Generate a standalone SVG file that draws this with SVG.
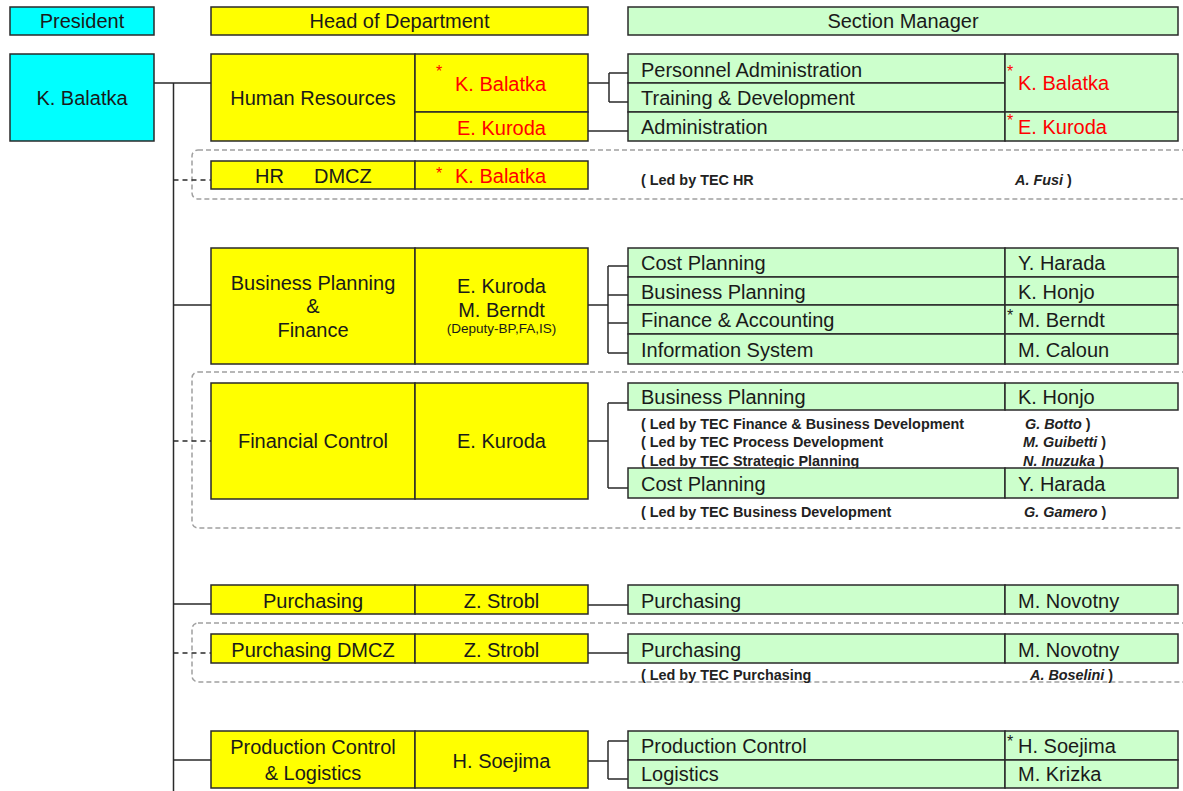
<svg xmlns="http://www.w3.org/2000/svg" width="1183" height="791" viewBox="0 0 1183 791">
  <style>
    .box { stroke: #2a2a2a; stroke-width: 1.5; }
    .pres { fill: #00FFFF; }
    .head { fill: #FFFF00; }
    .sec { fill: #CCFFCC; }
    .frame { fill: none; stroke: #a0a0a0; stroke-width: 1.5; stroke-dasharray: 5 3; }
    .t { font-family: "Liberation Sans", Arial, sans-serif; font-size: 20px; fill: #1a1a1a; }
    .c { text-anchor: middle; }
    .red { fill: #FF0000; }
    .star { font-size: 16px; }
    .s { font-family: "Liberation Sans", Arial, sans-serif; font-size: 14.4px; font-weight: bold; fill: #222222; }
    .sn { font-family: "Liberation Sans", Arial, sans-serif; font-size: 13.5px; fill: #1a1a1a; }
    .it { font-style: italic; }
    .conn { fill: none; stroke: #2a2a2a; stroke-width: 1.5; }
    .dash { stroke-dasharray: 5 4; }
  </style>

  <rect width="1183" height="791" fill="#FFFFFF"/>

  <!-- column headers -->
  <g id="hdr-president">
    <rect class="box pres" x="10" y="7" width="144" height="28"/>
    <text class="t c" x="82" y="28">President</text>
  </g>
  <g id="hdr-head">
    <rect class="box head" x="211" y="7" width="377" height="28"/>
    <text class="t c" x="399.5" y="28">Head of Department</text>
  </g>
  <g id="hdr-section">
    <rect class="box sec" x="628" y="7" width="550" height="28"/>
    <text class="t c" x="903" y="28">Section Manager</text>
  </g>

  <!-- dashed frames around the DMCZ / led-by units -->
  <g id="frames">
    <rect class="frame" x="192" y="150" width="1010" height="49" rx="6"/>
    <rect class="frame" x="192" y="372" width="1010" height="156" rx="6"/>
    <rect class="frame" x="192" y="623" width="1010" height="59" rx="6"/>
  </g>

  <!-- connectors -->
  <g id="connectors">
    <path class="conn" d="M154,83 H211 M173.5,83 V791"/>
    <!-- Human Resources -->
    <path class="conn" d="M588,83 H609 M609,73 V102 M609,73 H628 M609,102 H628"/>
    <path class="conn" d="M588,131 H628"/>
    <!-- HR DMCZ -->
    <path class="conn dash" d="M173.5,180 H211"/>
    <!-- Business Planning & Finance -->
    <path class="conn" d="M173.5,305 H211 M588,305 H608 M608,266 V353 M608,266 H628 M608,295 H628 M608,323 H628 M608,353 H628"/>
    <!-- Financial Control -->
    <path class="conn dash" d="M173.5,441 H211"/>
    <path class="conn" d="M588,441 H608 M608,403 V488 M608,403 H628 M608,488 H628"/>
    <!-- Purchasing -->
    <path class="conn" d="M173.5,604 H211 M588,605 H628"/>
    <path class="conn dash" d="M173.5,653 H211"/>
    <path class="conn" d="M588,653 H628"/>
    <!-- Production Control & Logistics -->
    <path class="conn" d="M173.5,760 H211 M588,761 H608 M608,741 V779 M608,741 H628 M608,779 H628"/>
  </g>

  <!-- president -->
  <g id="president">
    <rect class="box pres" x="10" y="54" width="144" height="87"/>
    <text class="t c" x="82" y="105">K. Balatka</text>
  </g>

  <!-- Human Resources -->
  <g id="dept-hr">
    <rect class="box head" x="211" y="54" width="204" height="87"/>
    <rect class="box head" x="415" y="54" width="173" height="58"/>
    <rect class="box head" x="415" y="112" width="173" height="29"/>
    <text class="t c" x="313" y="105">Human Resources</text>
    <text class="t red star" x="436" y="77">*</text>
    <text class="t red" x="455" y="91">K. Balatka</text>
    <text class="t red c" x="501.5" y="135">E. Kuroda</text>
  </g>
  <g id="sec-hr">
    <rect class="box sec" x="628" y="54" width="377" height="29"/>
    <rect class="box sec" x="628" y="83" width="377" height="29"/>
    <rect class="box sec" x="628" y="112" width="377" height="29"/>
    <rect class="box sec" x="1005" y="54" width="173" height="58"/>
    <rect class="box sec" x="1005" y="112" width="173" height="29"/>
    <text class="t" x="641" y="77">Personnel Administration</text>
    <text class="t" x="641" y="105">Training &amp; Development</text>
    <text class="t" x="641" y="134">Administration</text>
    <text class="t red star" x="1007" y="77">*</text>
    <text class="t red" x="1018" y="90">K. Balatka</text>
    <text class="t red star" x="1007" y="126">*</text>
    <text class="t red" x="1018" y="134">E. Kuroda</text>
  </g>

  <!-- HR DMCZ -->
  <g id="dept-hr-dmcz">
    <rect class="box head" x="211" y="161" width="204" height="28"/>
    <rect class="box head" x="415" y="161" width="173" height="28"/>
    <text class="t" x="255" y="183">HR</text>
    <text class="t" x="314" y="183">DMCZ</text>
    <text class="t red star" x="436" y="179">*</text>
    <text class="t red" x="455" y="183">K. Balatka</text>
    <text class="s" x="641" y="185">( Led by TEC HR</text>
    <text class="s" x="1015" y="185"><tspan class="it">A. Fusi</tspan> )</text>
  </g>

  <!-- Business Planning & Finance -->
  <g id="dept-bpf">
    <rect class="box head" x="211" y="248" width="204" height="116"/>
    <rect class="box head" x="415" y="248" width="173" height="116"/>
    <text class="t c" x="313" y="290">Business Planning</text>
    <text class="t c" x="313" y="313">&amp;</text>
    <text class="t c" x="313" y="337">Finance</text>
    <text class="t c" x="501.5" y="293">E. Kuroda</text>
    <text class="t c" x="501.5" y="317">M. Berndt</text>
    <text class="sn c" x="501.5" y="333">(Deputy-BP,FA,IS)</text>
  </g>
  <g id="sec-bpf">
    <rect class="box sec" x="628" y="248" width="377" height="29"/>
    <rect class="box sec" x="628" y="277" width="377" height="28"/>
    <rect class="box sec" x="628" y="305" width="377" height="29"/>
    <rect class="box sec" x="628" y="334" width="377" height="30"/>
    <rect class="box sec" x="1005" y="248" width="173" height="29"/>
    <rect class="box sec" x="1005" y="277" width="173" height="28"/>
    <rect class="box sec" x="1005" y="305" width="173" height="29"/>
    <rect class="box sec" x="1005" y="334" width="173" height="30"/>
    <text class="t" x="641" y="270">Cost Planning</text>
    <text class="t" x="641" y="299">Business Planning</text>
    <text class="t" x="641" y="327">Finance &amp; Accounting</text>
    <text class="t" x="641" y="357">Information System</text>
    <text class="t" x="1018" y="270">Y. Harada</text>
    <text class="t" x="1018" y="299">K. Honjo</text>
    <text class="t star" x="1007" y="321">*</text>
    <text class="t" x="1018" y="327">M. Berndt</text>
    <text class="t" x="1018" y="357">M. Caloun</text>
  </g>

  <!-- Financial Control -->
  <g id="dept-fc">
    <rect class="box head" x="211" y="383" width="204" height="116"/>
    <rect class="box head" x="415" y="383" width="173" height="116"/>
    <text class="t c" x="313" y="448">Financial Control</text>
    <text class="t c" x="501.5" y="448">E. Kuroda</text>
  </g>
  <g id="sec-fc">
    <text class="s" x="641" y="429">( Led by TEC Finance &amp; Business Development</text>
    <text class="s" x="1025" y="429"><tspan class="it">G. Botto</tspan> )</text>
    <text class="s" x="641" y="447">( Led by TEC Process Development</text>
    <text class="s" x="1023" y="447"><tspan class="it">M. Guibetti</tspan> )</text>
    <text class="s" x="641" y="466">( Led by TEC Strategic Planning</text>
    <text class="s" x="1023" y="466"><tspan class="it">N. Inuzuka</tspan> )</text>
    <rect class="box sec" x="628" y="383" width="377" height="27"/>
    <rect class="box sec" x="1005" y="383" width="173" height="27"/>
    <rect class="box sec" x="628" y="468" width="377" height="30"/>
    <rect class="box sec" x="1005" y="468" width="173" height="30"/>
    <text class="t" x="641" y="404">Business Planning</text>
    <text class="t" x="1018" y="404">K. Honjo</text>
    <text class="t" x="641" y="491">Cost Planning</text>
    <text class="t" x="1018" y="491">Y. Harada</text>
    <text class="s" x="641" y="517">( Led by TEC Business Development</text>
    <text class="s" x="1024" y="517"><tspan class="it">G. Gamero</tspan> )</text>
  </g>

  <!-- Purchasing -->
  <g id="dept-pur">
    <rect class="box head" x="211" y="585" width="204" height="29"/>
    <rect class="box head" x="415" y="585" width="173" height="29"/>
    <text class="t c" x="313" y="608">Purchasing</text>
    <text class="t c" x="501.5" y="608">Z. Strobl</text>
  </g>
  <g id="sec-pur">
    <rect class="box sec" x="628" y="585" width="377" height="29"/>
    <rect class="box sec" x="1005" y="585" width="173" height="29"/>
    <text class="t" x="641" y="608">Purchasing</text>
    <text class="t" x="1018" y="608">M. Novotny</text>
  </g>

  <!-- Purchasing DMCZ -->
  <g id="dept-pur-dmcz">
    <rect class="box head" x="211" y="634" width="204" height="29"/>
    <rect class="box head" x="415" y="634" width="173" height="29"/>
    <text class="t c" x="313" y="657">Purchasing DMCZ</text>
    <text class="t c" x="501.5" y="657">Z. Strobl</text>
  </g>
  <g id="sec-pur-dmcz">
    <rect class="box sec" x="628" y="634" width="377" height="29"/>
    <rect class="box sec" x="1005" y="634" width="173" height="29"/>
    <text class="t" x="641" y="657">Purchasing</text>
    <text class="t" x="1018" y="657">M. Novotny</text>
    <text class="s" x="641" y="680">( Led by TEC Purchasing</text>
    <text class="s" x="1030" y="680"><tspan class="it">A. Boselini</tspan> )</text>
  </g>

  <!-- Production Control & Logistics -->
  <g id="dept-pcl">
    <rect class="box head" x="211" y="731" width="204" height="57"/>
    <rect class="box head" x="415" y="731" width="173" height="57"/>
    <text class="t c" x="313" y="754">Production Control</text>
    <text class="t c" x="313" y="780">&amp; Logistics</text>
    <text class="t c" x="501.5" y="768">H. Soejima</text>
  </g>
  <g id="sec-pcl">
    <rect class="box sec" x="628" y="731" width="377" height="29"/>
    <rect class="box sec" x="628" y="760" width="377" height="28"/>
    <rect class="box sec" x="1005" y="731" width="173" height="29"/>
    <rect class="box sec" x="1005" y="760" width="173" height="28"/>
    <text class="t" x="641" y="753">Production Control</text>
    <text class="t" x="641" y="781">Logistics</text>
    <text class="t star" x="1007" y="747">*</text>
    <text class="t" x="1018" y="753">H. Soejima</text>
    <text class="t" x="1018" y="781">M. Krizka</text>
  </g>
</svg>
